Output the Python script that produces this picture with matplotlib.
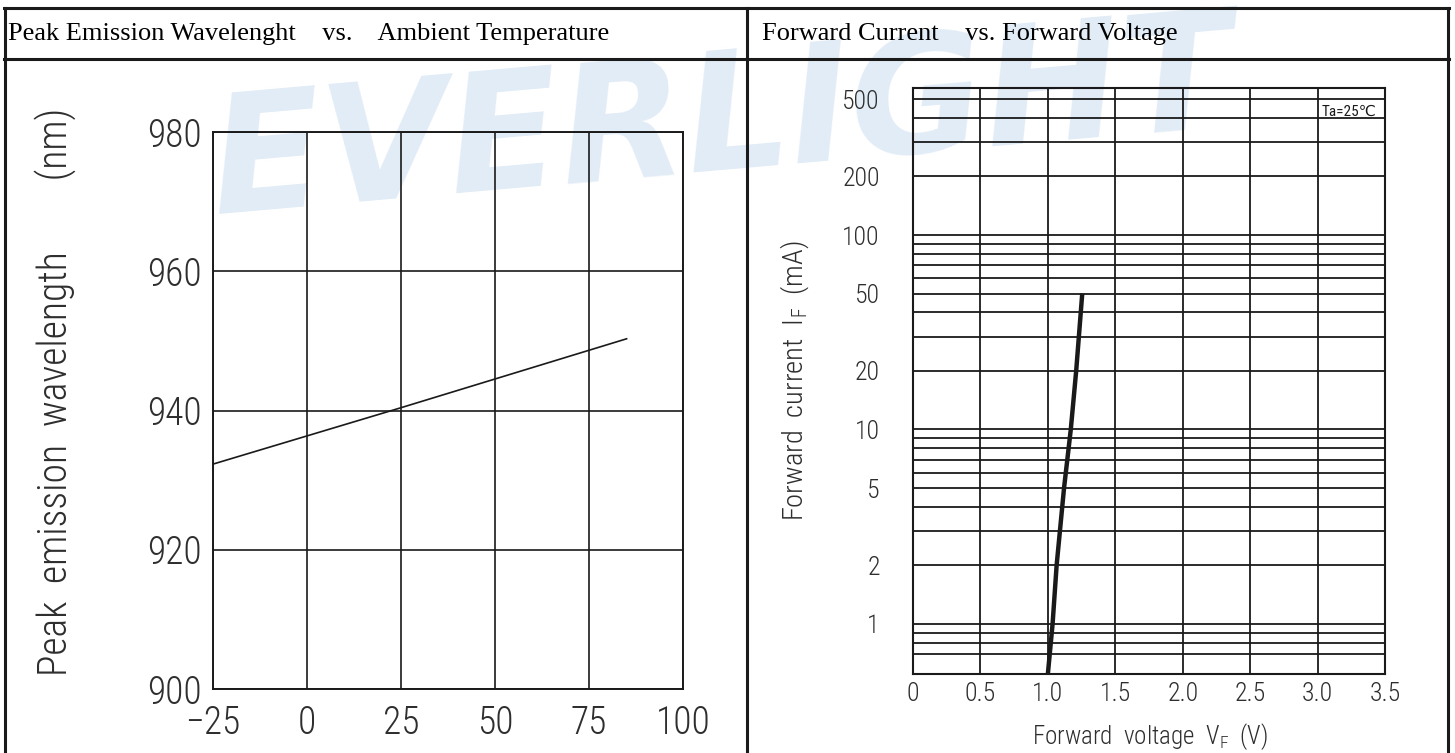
import matplotlib
matplotlib.use("Agg")
import matplotlib.pyplot as plt
from matplotlib import font_manager
from matplotlib.lines import Line2D
from matplotlib.ticker import FixedLocator, NullFormatter

# peak wavelength vs ambient temperature
temp = [-25, 25, 85]
wavelength = [932.3, 940.4, 950.3]
temp_ticks = [-25, 0, 25, 50, 75, 100]
wl_ticks = [900, 920, 940, 960, 980]

# forward current vs forward voltage
vf = [1.0, 1.035, 1.065, 1.12, 1.17, 1.21, 1.255]
i_f = [0.553, 1, 2, 5, 10, 20, 50]
vf_ticks = [0, 0.5, 1.0, 1.5, 2.0, 2.5, 3.0, 3.5]
vf_labels = ['0', '0.5', '1.0', '1.5', '2.0', '2.5', '3.0', '3.5']
if_ticks = [1, 2, 5, 10, 20, 50, 100, 200, 500]
if_grid = [0.7, 0.8, 0.9, 2, 3, 4, 6, 7, 8, 9, 30, 40, 60, 70, 80, 90, 300, 400]

W, H = 1455, 753
ink = '#1a1a1a'
txt = '#2e2e2e'

# narrow font for the drawing text, if there is one
names = set(f.name for f in font_manager.fontManager.ttflist)
cad = 'DejaVu Sans'
for n in ['Roboto Condensed', 'Liberation Sans Narrow', 'Open Sans Condensed']:
    if n in names:
        cad = n
        break
serif = 'Liberation Serif' if 'Liberation Serif' in names else 'DejaVu Serif'


def box(x0, y0, x1, y1):  # pixel box -> figure rect
    return [x0 / W, 1 - y1 / H, (x1 - x0) / W, (y1 - y0) / H]


def fx(x):
    return x / W


def fy(y):
    return 1 - y / H


fig = plt.figure(figsize=(W / 100, H / 100), dpi=100)

# watermark
fig.text(fx(722), fy(124), 'EVERLIGHT', fontsize=118, fontweight='bold', style='italic',
         color='#e2ecf6', rotation=5, ha='center', va='center', zorder=-5)


# table frame
def seg(x0, y0, x1, y1):
    fig.add_artist(Line2D([fx(x0), fx(x1)], [fy(y0), fy(y1)], color=ink, lw=2.2,
                          transform=fig.transFigure))


seg(4, 8, 1449, 8)
seg(4, 59, 1449, 59)
seg(5, 8, 5, 753)
seg(747, 8, 747, 753)
seg(1448, 8, 1448, 753)

fig.text(fx(8), fy(34), 'Peak Emission Wavelenght    vs.    Ambient Temperature',
         family=serif, fontsize=19, va='center', ha='left')
fig.text(fx(762), fy(34), 'Forward Current    vs. Forward Voltage',
         family=serif, fontsize=19, va='center', ha='left')

# left chart
ax1 = fig.add_axes(box(213, 132, 683, 689))
ax1.set_facecolor('none')
ax1.plot(temp, wavelength, color=ink, lw=1.2)
ax1.set_xlim(-25, 100)
ax1.set_ylim(900, 980)
ax1.set_xticks(temp_ticks)
ax1.set_yticks(wl_ticks)
ax1.set_xticklabels(['\u221225', '0', '25', '50', '75', '100'])
ax1.grid(True, color=ink, lw=1.2)
ax1.tick_params(length=0, labelsize=27, colors=txt)
ax1.tick_params(axis='x', pad=11)
ax1.tick_params(axis='y', pad=8)
for lab in ax1.get_xticklabels() + ax1.get_yticklabels():
    lab.set_family(cad)
    lab.set_fontweight('light')
for s in ax1.spines.values():
    s.set_color(ink)
    s.set_linewidth(1.4)
fig.text(fx(55), fy(392), 'Peak  emission  wavelength        (nm)', rotation=90,
         family=cad, fontweight='light', fontsize=28.5, color=txt, ha='center', va='center')

# right chart
ax2 = fig.add_axes(box(913, 88, 1385, 674))
ax2.set_facecolor('none')
ax2.set_yscale('log')
ax2.plot(vf, i_f, color=ink, lw=3.2, solid_capstyle='butt')
ax2.set_xlim(0, 3.5)
ax2.set_ylim(0.553, 570)
ax2.set_xticks(vf_ticks)
ax2.set_xticklabels(vf_labels)
ax2.yaxis.set_major_locator(FixedLocator(if_ticks))
ax2.yaxis.set_minor_locator(FixedLocator(if_grid))
ax2.yaxis.set_minor_formatter(NullFormatter())
ax2.set_yticklabels([str(v) for v in if_ticks])
ax2.grid(True, which='both', color=ink, lw=1.3)
ax2.tick_params(which='both', length=0, labelsize=18.5, colors=txt)
ax2.tick_params(axis='x', pad=6)
ax2.tick_params(axis='y', pad=24)
for lab in ax2.get_xticklabels() + ax2.get_yticklabels():
    lab.set_family(cad)
    lab.set_fontweight('light')
for s in ax2.spines.values():
    s.set_color(ink)
    s.set_linewidth(1.5)
fig.text(fx(795), fy(381), r'Forward  current  I$_\mathregular{F}$  (mA)', rotation=90,
         family=cad, fontweight='light', fontsize=20.5, color=txt, ha='center', va='center')
fig.text(fx(1150), fy(737), r'Forward  voltage  V$_\mathregular{F}$  (V)',
         family=cad, fontweight='light', fontsize=18, color=txt, ha='center', va='center')
fig.text(fx(1322), fy(112), 'Ta=25\u2103', family=[cad, 'DejaVu Sans'], fontsize=11,
         color=ink, ha='left', va='center')

fig.savefig('out.png', dpi=100)
